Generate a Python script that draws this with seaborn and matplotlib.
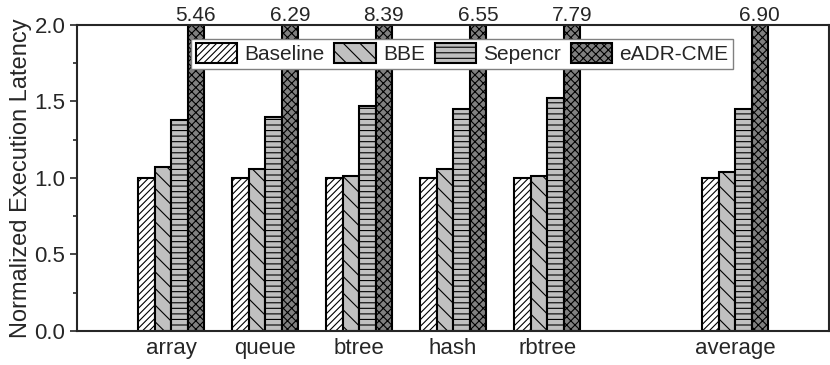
import pandas as pd
import numpy as np
import seaborn as sns
import matplotlib.pyplot as plt
from matplotlib.ticker import MultipleLocator

workloads = ["array", "queue", "btree", "hash", "rbtree", "average"]
schemes = ["Baseline", "BBE", "Sepencr", "eADR-CME"]
baseline = [1.00, 1.00, 1.00, 1.00, 1.00, 1.00]
bbe = [1.07, 1.06, 1.01, 1.06, 1.01, 1.04]
sepencr = [1.38, 1.40, 1.47, 1.45, 1.52, 1.45]
eadr_cme = [5.46, 6.29, 8.39, 6.55, 7.79, 6.90]

# Blank slot between rbtree and average.
order = ["array", "queue", "btree", "hash", "rbtree", " ", "average"]

df = pd.DataFrame({"workload": workloads, "Baseline": baseline, "BBE": bbe,
                   "Sepencr": sepencr, "eADR-CME": eadr_cme})
df = df.melt(id_vars="workload", var_name="scheme", value_name="latency")

sns.set_style("ticks")
plt.rcParams["font.family"] = ["Liberation Sans", "DejaVu Sans"]
plt.rcParams["hatch.linewidth"] = 0.8

fig = plt.figure(figsize=(8.3, 3.65), dpi=100)
ax = fig.add_axes([0.093, 0.093, 0.906, 0.839])

sns.barplot(data=df, x="workload", y="latency", hue="scheme", order=order,
            hue_order=schemes, width=0.7, gap=0, ax=ax, legend=False)

colors = ["white", "#c0c0c0", "#c0c0c0", "#808080"]
hatches = ["/////", "\\\\", "---", "xxxx"]
for cont, fc, h in zip(ax.containers, colors, hatches):
    for p in cont.patches:
        p.set_facecolor(fc)
        p.set_edgecolor("black")
        p.set_linewidth(1.5)
        p.set_hatch(h)

# Labels for bars that run off the top.
for p, v in zip(ax.containers[3].patches, eadr_cme):
    x = p.get_x() + p.get_width() / 2
    ax.text(x, 2.0, "%.2f" % v, ha="center", va="bottom", fontsize=15)

ax.set_ylim(0, 2.0)
ax.set_xlim(-1, 7)
ax.yaxis.set_major_locator(MultipleLocator(0.5))
ax.yaxis.set_minor_locator(MultipleLocator(0.25))
ax.tick_params(axis="y", which="major", length=5, width=1.2, labelsize=16)
ax.tick_params(axis="y", which="minor", length=3, width=1.2)
ax.tick_params(axis="x", length=0, labelsize=16, pad=5)
ax.set_xlabel("")
ax.set_ylabel("Normalized Execution Latency", fontsize=17, labelpad=2)
for s in ax.spines.values():
    s.set_linewidth(1.5)
    s.set_visible(True)

ax.legend(ax.containers, schemes, loc="upper center", ncol=4,
          bbox_to_anchor=(0.512, 0.953), fontsize=15, frameon=True,
          fancybox=False, edgecolor="#808080", framealpha=1,
          handlelength=2.0, handleheight=1.1, handletextpad=0.35,
          columnspacing=0.45, borderpad=0.2, borderaxespad=0)

plt.savefig("out.png", dpi=100)
